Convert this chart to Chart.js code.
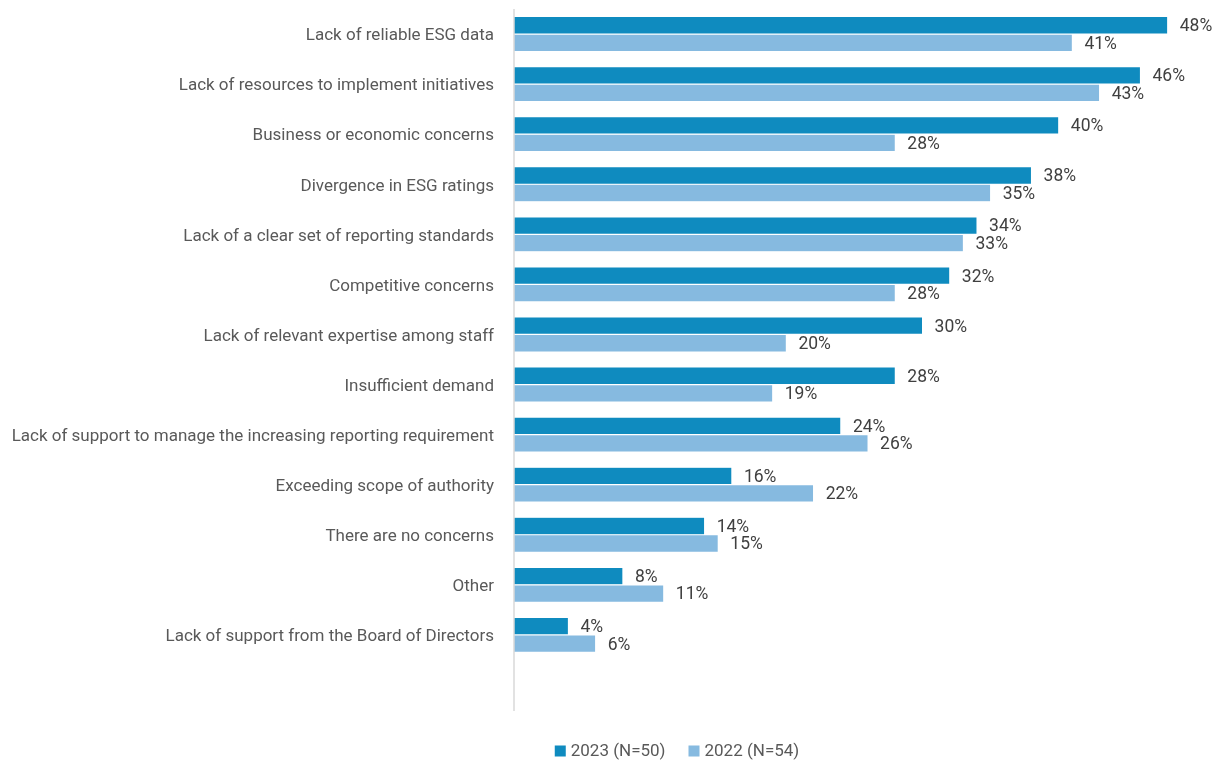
<!DOCTYPE html>
<html>
<head>
<meta charset="utf-8">
<script src="https://cdn.jsdelivr.net/npm/chart.js@4.4.1/dist/chart.umd.min.js"></script>
<style>
  html, body { margin: 0; padding: 0; background: #ffffff; }
  #wrap { width: 1221px; height: 764px; position: relative; }
</style>
</head>
<body>
<div id="wrap"><canvas id="c" width="1221" height="764"></canvas></div>
<script>
// Concerns about ESG, share of respondents (%)
const categories = [
  "Lack of reliable ESG data",
  "Lack of resources to implement initiatives",
  "Business or economic concerns",
  "Divergence in ESG ratings",
  "Lack of a clear set of reporting standards",
  "Competitive concerns",
  "Lack of relevant expertise among staff",
  "Insufficient demand",
  "Lack of support to manage the increasing reporting requirement",
  "Exceeding scope of authority",
  "There are no concerns",
  "Other",
  "Lack of support from the Board of Directors",
  ""
];
const values2023 = [48, 46, 40, 38, 34, 32, 30, 28, 24, 16, 14, 8, 4, null];
const values2022 = [41, 43, 28, 35, 33, 28, 20, 19, 26, 22, 15, 11, 6, null];
const seriesNames = ["2023 (N=50)", "2022 (N=54)"];
const seriesColors = ["#0F8BBF", "#86BAE0"];

const FONT = "Roboto, 'Liberation Sans', Arial, sans-serif";

// Writes "NN%" just past the end of each bar
const valueLabels = {
  id: 'valueLabels',
  afterDatasetsDraw(chart) {
    const ctx = chart.ctx;
    ctx.save();
    ctx.font = "17.5px " + FONT;
    ctx.fillStyle = "#404040";
    ctx.textAlign = "left";
    ctx.textBaseline = "middle";
    chart.data.datasets.forEach((ds, di) => {
      const meta = chart.getDatasetMeta(di);
      meta.data.forEach((bar, i) => {
        const v = ds.data[i];
        if (v === null || v === undefined) return;
        ctx.fillText(v + "%", bar.x + 12, bar.y + 1.5);
      });
    });
    ctx.restore();
  }
};

// Vertical baseline of the value axis
const baseLine = {
  id: 'baseLine',
  afterDatasetsDraw(chart) {
    const ctx = chart.ctx;
    const x = chart.scales.x.getPixelForValue(0);
    ctx.save();
    ctx.strokeStyle = "#D9D9D9";
    ctx.lineWidth = 1.5;
    ctx.beginPath();
    ctx.moveTo(x, chart.chartArea.top);
    ctx.lineTo(x, chart.chartArea.bottom + 1);
    ctx.stroke();
    ctx.restore();
  }
};

// Series key below the plot: square swatch + name for each dataset
const bottomLegend = {
  id: 'bottomLegend',
  afterDraw(chart) {
    const ctx = chart.ctx;
    const box = 11, gapText = 5, gapItem = 23;
    const centerX = 677, centerY = 751;
    ctx.save();
    ctx.font = "17px " + FONT;
    ctx.textBaseline = "middle";
    ctx.textAlign = "left";
    const items = chart.data.datasets.map(ds => ({
      text: ds.label, color: ds.backgroundColor, w: ctx.measureText(ds.label).width
    }));
    const total = items.reduce((s, it) => s + box + gapText + it.w, 0) + gapItem * (items.length - 1);
    let x = centerX - total / 2;
    items.forEach(it => {
      ctx.fillStyle = it.color;
      ctx.fillRect(x, centerY - box / 2, box, box);
      x += box + gapText;
      ctx.fillStyle = "#595959";
      ctx.fillText(it.text, x, centerY + 1);
      x += it.w + gapItem;
    });
    ctx.restore();
  }
};

new Chart(document.getElementById('c'), {
  type: 'bar',
  data: {
    labels: categories,
    datasets: [
      {
        label: seriesNames[0],
        data: values2023,
        backgroundColor: seriesColors[0],
        borderColor: "#ffffff",
        borderWidth: 0.6
      },
      {
        label: seriesNames[1],
        data: values2022,
        backgroundColor: seriesColors[1],
        borderColor: "#ffffff",
        borderWidth: 0.6
      }
    ]
  },
  options: {
    indexAxis: 'y',
    responsive: false,
    animation: false,
    devicePixelRatio: 1,
    layout: { padding: { top: 9, right: 26, left: 0, bottom: 54 } },
    datasets: { bar: { categoryPercentage: 0.7, barPercentage: 1.0 } },
    scales: {
      x: {
        display: false,
        min: 0,
        max: 50
      },
      y: {
        grid: { display: false, drawTicks: false },
        border: { display: false },
        ticks: {
          color: "#595959",
          font: { family: FONT, size: 17 },
          padding: 20,
          labelOffset: 2,
          autoSkip: false
        },
        afterFit(scale) {
          scale.width = 514;
          scale.paddingTop = 0;
          scale.paddingBottom = 0;
        }
      }
    },
    plugins: {
      legend: { display: false },
      tooltip: { enabled: false }
    }
  },
  plugins: [valueLabels, baseLine, bottomLegend]
});
</script>
</body>
</html>
